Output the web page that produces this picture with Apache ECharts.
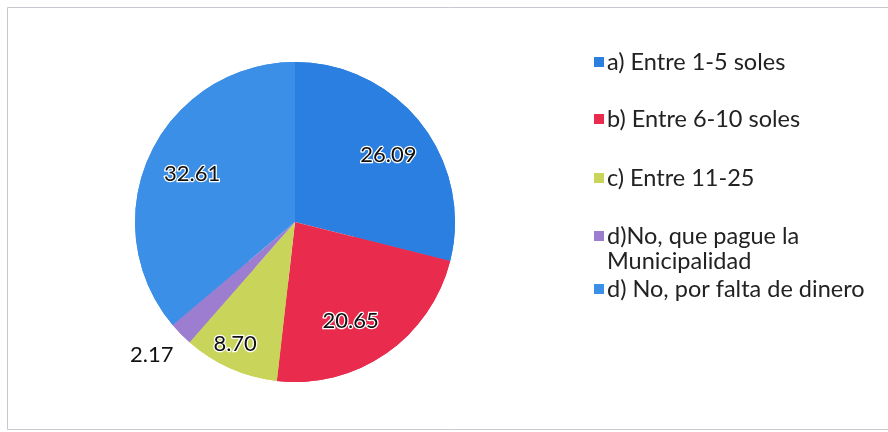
<!DOCTYPE html>
<html>
<head>
<meta charset="utf-8">
<script src="https://cdn.jsdelivr.net/npm/echarts@6/dist/echarts.min.js"></script>
<style>
  html, body { margin: 0; padding: 0; background: #fff; }
  #chart { width: 888px; height: 432px; }
</style>
</head>
<body>
<div id="chart"></div>
<script>
// Slice categories, shares and colours
const categories = [
  'a) Entre 1-5 soles',
  'b) Entre 6-10 soles',
  'c) Entre 11-25',
  'd)No, que pague la Municipalidad',
  'd) No, por falta de dinero'
];
const values = [26.09, 20.65, 8.70, 2.17, 32.61];
const colors = ['#2b7fe0', '#e92b4d', '#c9d45a', '#9c7dd0', '#3b8fe6'];

// Legend row tops (one legend block per entry)
const legendTops = [45, 102, 161, 219, 272];

const FONT = 'Lato';
const LEGEND_SIZE = 23.5;
const center = [295, 222];
const R = 160;

const pieData = categories.map((name, i) => ({
  name: name,
  value: values[i],
  itemStyle: { color: colors[i] }
}));

// Per-slice label placement tweaks
const labelTweaks = {
  0: { offset: [4, 3] },
  1: { offset: [-9, 6] },
  2: { offset: [-14, 18] },
  3: { position: 'outside', offset: [12, 7] }
};

const labelledData = pieData.map((d, i) => {
  const item = Object.assign({}, d);
  if (labelTweaks[i]) {
    item.label = Object.assign({}, labelTweaks[i]);
    if (labelTweaks[i].position === 'outside') {
      item.labelLine = { show: false, length: 20, length2: 0 };
    }
  }
  return item;
});

const legends = categories.map((name, i) => ({
  data: [name],
  orient: 'vertical',
  left: 589,
  top: legendTops[i],
  itemWidth: 10,
  itemHeight: 10,
  itemGap: 0,
  icon: 'rect',
  selectedMode: false,
  formatter: (n) => (i === 3 ? 'd)No, que pague la' : n),
  textStyle: { fontFamily: FONT, fontSize: LEGEND_SIZE, color: '#222', padding: [0, 0, 0, -2] }
}));

const chart = echarts.init(document.getElementById('chart'), null, { renderer: 'canvas' });
chart.setOption({
  backgroundColor: '#ffffff',
  animation: false,
  legend: legends,
  graphic: [
    {
      type: 'rect',
      shape: { x: 7.5, y: 7.5, width: 900, height: 422 },
      style: { fill: 'none', stroke: '#c8c8d0', lineWidth: 1 },
      silent: true
    },
    {
      type: 'text',
      left: 607,
      top: 249,
      style: { text: 'Municipalidad', fontFamily: FONT, fontSize: LEGEND_SIZE, fill: '#222' }
    }
  ],
  series: [
    {
      // solid disc underneath
      type: 'pie',
      center: center,
      radius: [0, R],
      startAngle: 90,
      clockwise: true,
      silent: true,
      label: { show: false },
      labelLine: { show: false },
      data: pieData
    },
    {
      // label ring: inside labels sit at roughly 0.69 of the radius
      type: 'pie',
      center: center,
      radius: [R * 0.38, R],
      startAngle: 90,
      clockwise: true,
      avoidLabelOverlap: false,
      silent: true,
      label: {
        show: true,
        position: 'inside',
        formatter: (p) => p.value.toFixed(2),
        fontFamily: FONT,
        fontSize: 22,
        color: '#111',
        textBorderColor: '#ffffff',
        textBorderWidth: 2.5
      },
      labelLine: { show: false },
      data: labelledData
    }
  ]
});
</script>
</body>
</html>
